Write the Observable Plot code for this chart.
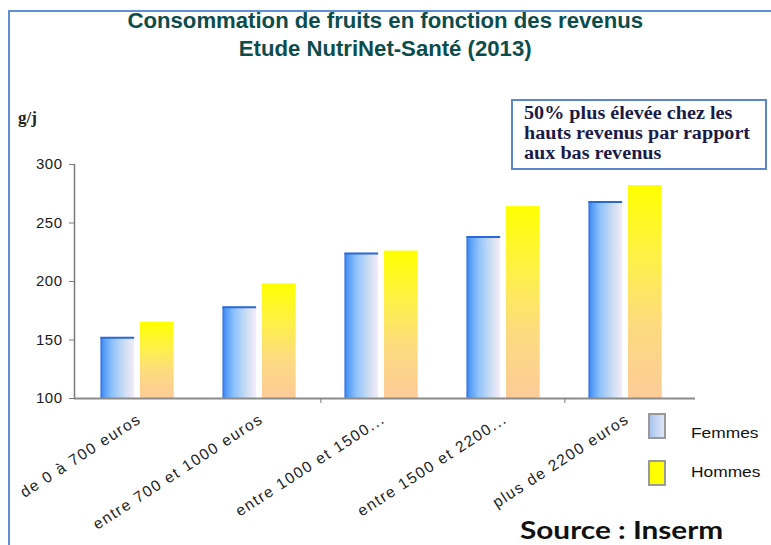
<!DOCTYPE html>
<html>
<head>
<meta charset="utf-8">
<script src="https://cdn.jsdelivr.net/npm/d3@7"></script>
<script src="https://cdn.jsdelivr.net/npm/@observablehq/plot@0.6"></script>
<style>
  html, body { margin: 0; padding: 0; background: #fff; }
  #wrap { position: relative; width: 771px; height: 545px; overflow: hidden; background: #fff; }
  #chart { position: absolute; left: 0; top: 0; }
  .frame { position: absolute; left: 8px; top: 10px; width: 800px; height: 600px;
           border-top: 2px solid #5f8fd4; border-left: 2px solid #5f8fd4; }
  .title { position: absolute; left: 0; width: 771px; text-align: center; font-family: "Liberation Sans", Arial, sans-serif;
           font-weight: bold; font-size: 21.5px; color: #0c4c4c; }
  .title span { display: inline-block; transform: scaleX(1.03); }
  .unit { position: absolute; left: 18px; top: 108px; font-family: "Liberation Serif", "Times New Roman", serif;
          font-weight: bold; font-size: 17px; color: #222; }
  .note { position: absolute; left: 511px; top: 99px; width: 256px; height: 71px; box-sizing: border-box;
          border: 2px solid #5b86cc; background: #fff; }
  .note div { position: absolute; left: 11px; top: 2px; font-family: "Liberation Serif", "Times New Roman", serif;
              font-weight: bold; font-size: 18px; line-height: 20px; color: #1b1b48; transform: scaleX(1.12);
              transform-origin: left top; white-space: nowrap; }
  .leg { position: absolute; left: 648px; font-family: "Liberation Sans", Arial, sans-serif; font-size: 15.5px; color: #111; }
  .leg .sw { position: absolute; left: 0; width: 18px; height: 26px; box-sizing: border-box; border: 2px solid #9a9a9a; }
  .leg .lab { position: absolute; left: 43px; white-space: nowrap; transform: scaleX(1.12); transform-origin: left center; }
  .source { position: absolute; left: 520px; top: 515px; font-family: Lato, "Open Sans", sans-serif; font-weight: bold;
            font-size: 25px; line-height: 28px; color: #111; white-space: nowrap; transform: scaleX(1.19); transform-origin: left top; }
</style>
</head>
<body>
<div id="wrap">
  <div id="chart"></div>
  <div class="frame"></div>
  <div class="title" style="top:9px"><span id="t1"></span></div>
  <div class="title" style="top:37px"><span id="t2"></span></div>
  <div class="unit" id="unit"></div>
  <div class="note"><div id="note"></div></div>
  <div id="legend"></div>
  <div class="source" id="source"></div>
</div>
<script>
// ---- data ----
const categories = ["de 0 à 700 euros", "entre 700 et 1000 euros", "entre 1000 et 1500...", "entre 1500 et 2200...", "plus de 2200 euros"];
const series = ["Femmes", "Hommes"];
const femmes = [152, 178, 224, 238, 268];
const hommes = [165, 198, 226, 264, 282];
const yTicks = [100, 150, 200, 250, 300];
const titleLines = ["Consommation de fruits en fonction des revenus", "Etude NutriNet-Santé (2013)"];
const unitLabel = "g/j";
const noteLines = ["50% plus élevée chez les", "hauts revenus par rapport", "aux bas revenus"];
const sourceText = "Source : Inserm";

// ---- text ----
document.getElementById("t1").textContent = titleLines[0];
document.getElementById("t2").textContent = titleLines[1];
document.getElementById("unit").textContent = unitLabel;
document.getElementById("note").innerHTML = noteLines.map(s => s.replace(/&/g,"&amp;")).join("<br>");
document.getElementById("source").textContent = sourceText;

// ---- layout ----
const W = 771, H = 545, ml = 74, mr = 83, mt = 164, mb = 147;
const step = (W - ml - mr) / categories.length;
const outer = 0.199, barFrac = 0.281, gapFrac = 0.041;

const dataF = categories.map((c, i) => ({cat: c, sex: series[0], value: femmes[i]}));
const dataH = categories.map((c, i) => ({cat: c, sex: series[1], value: hommes[i]}));

const insF = {insetLeft: step * outer, insetRight: step * (1 - outer - barFrac)};
const insH = {insetLeft: step * (outer + barFrac + gapFrac), insetRight: step * (1 - outer - 2 * barFrac - gapFrac)};

function defs() {
  const d = d3.create("svg:defs");
  const gf = d.append("linearGradient").attr("id", "gradF").attr("x1", 0).attr("x2", 1).attr("y1", 0).attr("y2", 0);
  [[0, "#2a6ee0"], [0.08, "#4f97f5"], [0.35, "#8fc2fb"], [0.7, "#c9dcf3"], [1, "#f6ecf8"]]
    .forEach(([o, c]) => gf.append("stop").attr("offset", o).attr("stop-color", c));
  const gh = d.append("linearGradient").attr("id", "gradH").attr("x1", 0).attr("x2", 0).attr("y1", 0).attr("y2", 1);
  [[0, "#ffff00"], [0.35, "#fef04a"], [0.65, "#fddb7e"], [1, "#fccb98"]]
    .forEach(([o, c]) => gh.append("stop").attr("offset", o).attr("stop-color", c));
  return d.node();
}

const chart = Plot.plot({
  width: W, height: H,
  marginLeft: ml, marginRight: mr, marginTop: mt, marginBottom: mb,
  style: {fontFamily: "'Liberation Sans', Arial, sans-serif", background: "transparent", overflow: "visible"},
  x: {domain: categories, padding: 0, label: null},
  y: {domain: [yTicks[0], yTicks[yTicks.length - 1]], label: null},
  marks: [
    defs,
    Plot.barY(dataF, {x: "cat", y1: yTicks[0], y2: "value", fill: "url(#gradF)", ...insF}),
    Plot.barY(dataH, {x: "cat", y1: yTicks[0], y2: "value", fill: "url(#gradH)", ...insH}),
    Plot.tickY(dataF, {x: "cat", y: "value", stroke: "#2a68d8", strokeWidth: 2, ...insF}),
    Plot.ruleY([yTicks[0]], {stroke: "#8a8a8a", strokeWidth: 2, insetRight: -7}),
    Plot.frame({anchor: "left", stroke: "#7a7a7a", strokeWidth: 1.5}),
    Plot.axisY({ticks: yTicks, tickSize: 5, tickPadding: 7, fontSize: 15, color: "#1a1a1a", stroke: "#7a7a7a"}),
    Plot.axisX({ticks: [categories[1], categories[3]], tickSize: 5, tickFormat: () => "", dx: step / 2, stroke: "#7a7a7a"}),
    Plot.axisX({tickRotate: -33, tickSize: 0, tickPadding: 19, dx: 2, fontSize: 15.5, fill: "#222"})
  ]
});
d3.select(chart).selectAll('g[aria-label="x-axis tick label"] text').attr("letter-spacing", 1.5);
d3.select(chart).selectAll('g[aria-label="y-axis tick label"] text').attr("letter-spacing", 0.5);
document.getElementById("chart").appendChild(chart);

// ---- legend ----
const legendFills = ["linear-gradient(to right, #a9c4ef, #dfe6f4)", "#ffff00"];
const legendTops = [413, 460];
const leg = document.getElementById("legend");
series.forEach((s, i) => {
  const row = document.createElement("div");
  row.className = "leg";
  row.style.top = legendTops[i] + "px";
  const sw = document.createElement("div");
  sw.className = "sw";
  sw.style.background = legendFills[i];
  sw.style.top = "0px";
  const lab = document.createElement("div");
  lab.className = "lab";
  lab.style.top = (i === 0 ? 11 : 3) + "px";
  lab.textContent = s;
  row.appendChild(sw); row.appendChild(lab);
  leg.appendChild(row);
});
</script>
</body>
</html>
